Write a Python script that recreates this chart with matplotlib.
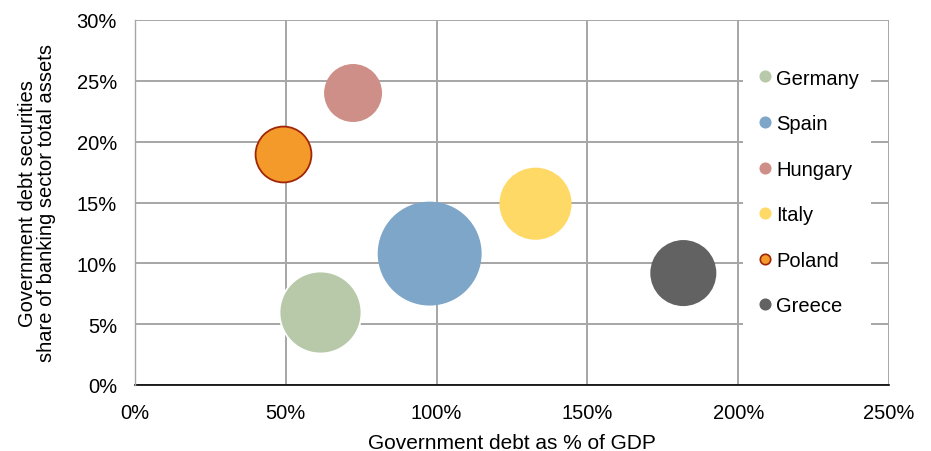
import matplotlib
matplotlib.use("Agg")
import matplotlib.pyplot as plt
from matplotlib.lines import Line2D
from matplotlib.ticker import PercentFormatter

plt.rcParams['font.family'] = ['Liberation Sans', 'DejaVu Sans']

countries = ["Germany", "Spain", "Hungary", "Italy", "Poland", "Greece"]
debt_gdp = [61.5, 97.7, 72.3, 132.8, 49.2, 181.8]          # x, %
gov_sec_share = [6.0, 10.8, 24.0, 14.9, 19.0, 9.2]         # y, %
bubble_size = [1680, 2700, 840, 1300, 780, 1090]          # relative bubble size
colors = ["#B7C9A8", "#7EA6C9", "#CE8F89", "#FFD966", "#F39A2A", "#626262"]
edgecolors = ["white", "none", "none", "none", "#A0260A", "none"]
x_ticks = [0, 50, 100, 150, 200, 250]
y_ticks = [0, 5, 10, 15, 20, 25, 30]

W, H, DPI = 931, 452, 100
FS = 14.5
fig = plt.figure(figsize=(W / DPI, H / DPI), dpi=DPI)
ax = fig.add_axes([135 / W, 1 - 386 / H, (889 - 135) / W, (386 - 21) / H])

scale = (1.44) ** 2  # px^2 -> pt^2 at 100 dpi
order = ["Greece", "Italy", "Spain", "Germany", "Hungary", "Poland"]
for name in order:
    i = countries.index(name)
    ax.scatter(debt_gdp[i], gov_sec_share[i], s=bubble_size[i] * scale,
               color=colors[i], edgecolors=edgecolors[i],
               linewidths=1.3 if edgecolors[i] != "none" else 0, zorder=3)

ax.set_xlim(0, 250)
ax.set_ylim(0, 30)
ax.set_xticks(x_ticks)
ax.set_yticks(y_ticks)
ax.xaxis.set_major_formatter(PercentFormatter(decimals=0))
ax.yaxis.set_major_formatter(PercentFormatter(decimals=0))
ax.grid(True, color="#A6A6A6", linewidth=1.4, zorder=0)
ax.set_axisbelow(True)
for s in ["top", "right"]:
    ax.spines[s].set_visible(False)
ax.spines["left"].set_color("#A6A6A6")
ax.spines["left"].set_linewidth(1.0)
ax.spines["bottom"].set_color("black")
ax.spines["bottom"].set_linewidth(1.2)
ax.spines["bottom"].set_zorder(2)
ax.tick_params(length=0, labelsize=FS, colors="#000000")
ax.tick_params(axis="x", pad=13)
ax.tick_params(axis="y", pad=13)

ax.set_xlabel("Government debt as % of GDP", fontsize=15, labelpad=8)
ax.set_ylabel("Government debt securities\nshare of banking sector total assets",
              fontsize=FS, labelpad=15, linespacing=1.0)

handles = [Line2D([0], [0], marker="o", linestyle="none", markersize=7.5,
                  markerfacecolor=colors[i],
                  markeredgecolor=(edgecolors[i] if edgecolors[i] not in ("none", "white") else colors[i]),
                  markeredgewidth=1.2)
           for i in range(len(countries))]
leg = ax.legend(handles, countries, loc="center left",
                bbox_to_anchor=(743 / W, 1 - 193 / H), bbox_transform=fig.transFigure,
                fontsize=FS, frameon=True, framealpha=1, edgecolor="none",
                facecolor="white", labelspacing=1.32, handletextpad=0.05,
                handlelength=1.0, borderpad=0.6, borderaxespad=0, fancybox=False)
leg.set_zorder(5)

fig.savefig("out.png", dpi=DPI)
